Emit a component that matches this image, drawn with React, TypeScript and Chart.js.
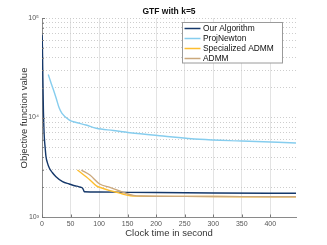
import React, { useEffect, useRef } from "react";
import { Chart, registerables } from "chart.js";

Chart.register(...registerables);

const FONT = '"Liberation Sans", Arial, Helvetica, sans-serif';

const chartTitle = "GTF with k=5";
const xAxisTitle = "Clock time in second";
const yAxisTitle = "Objective function value";

const seriesNames = ["Our Algorithm", "ProjNewton", "Specialized ADMM", "ADMM"];
const seriesColors = ["#15386a", "#86cdee", "#fdbd2e", "#cba87c"];

const ourX = [0, 0.5, 1, 1.5, 2, 2.5, 3, 4, 5.5, 7, 9.5, 12.8, 18, 24.5, 36, 47.7, 59, 63, 65, 68, 71, 72.5, 74, 100, 150, 200, 300, 445];
const ourY = [68000, 60000, 40000, 25000, 17000, 11500, 9000, 6400, 5000, 4040, 3500, 3110, 2800, 2540, 2265, 2147, 2050, 2035, 2010, 1990, 1950, 1880, 1795, 1785, 1770, 1760, 1745, 1730];

const projX = [11, 15, 20, 25, 30, 35, 48, 60, 77, 95, 125, 154, 212, 276, 350, 445];
const projY = [27000, 23000, 19000, 15500, 12500, 11000, 9400, 8900, 8400, 7800, 7400, 7030, 6520, 6040, 5800, 5550];

const specX = [62, 84, 96, 101, 119, 136, 145, 155, 165, 250, 350, 445];
const specY = [2965, 2355, 2040, 1990, 1840, 1740, 1680, 1635, 1620, 1610, 1600, 1595];

const admmX = [69, 84, 101, 119, 142, 160, 175, 250, 350, 445];
const admmY = [2965, 2640, 2145, 1987, 1770, 1650, 1625, 1612, 1602, 1597];

const xTicks = [0, 50, 100, 150, 200, 250, 300, 350, 400];
const yMajorTicks = [1000, 10000, 100000];
const yTickLabels = ["10\u00B3", "10\u2074", "10\u2075"];
const yMinorMultipliers = [2, 3, 4, 5, 6, 7, 8, 9];

const zip = (xs: number[], ys: number[]) => xs.map((x, i) => ({ x, y: ys[i] }));

function allYTicks(): number[] {
  const out: number[] = [];
  for (let i = 0; i < yMajorTicks.length; i++) {
    out.push(yMajorTicks[i]);
    if (i < yMajorTicks.length - 1) {
      for (const m of yMinorMultipliers) out.push(m * yMajorTicks[i]);
    }
  }
  return out;
}

const decorPlugin = {
  id: "decor",
  afterDraw(chart: any) {
    const ctx = chart.ctx as CanvasRenderingContext2D;
    const area = chart.chartArea;
    const xs = chart.scales.x;
    const ys = chart.scales.y;
    ctx.save();
    // inner tick marks
    ctx.strokeStyle = "#777";
    ctx.lineWidth = 1;
    ctx.beginPath();
    for (const t of xTicks) {
      const px = Math.round(xs.getPixelForValue(t)) + 0.5;
      ctx.moveTo(px, area.bottom);
      ctx.lineTo(px, area.bottom - 2.5);
    }
    for (const t of allYTicks()) {
      const py = Math.round(ys.getPixelForValue(t)) + 0.5;
      const major = yMajorTicks.includes(t);
      ctx.moveTo(area.left, py);
      ctx.lineTo(area.left + (major ? 3 : 1.8), py);
    }
    ctx.stroke();

    // title
    ctx.fillStyle = "#111";
    ctx.font = `bold 8.5px ${FONT}`;
    ctx.textAlign = "center";
    ctx.textBaseline = "middle";
    ctx.fillText(chartTitle, (area.left + area.right) / 2, 12);

    // axis titles
    ctx.fillStyle = "#333";
    ctx.font = `9.5px ${FONT}`;
    ctx.fillText(xAxisTitle, (area.left + area.right) / 2, 233);
    ctx.save();
    ctx.translate(24, 118);
    ctx.rotate(-Math.PI / 2);
    ctx.fillText(yAxisTitle, 0, 0);
    ctx.restore();

    // legend
    const bx = 182.5, by = 22.5, bw = 100, bh = 40.5;
    ctx.fillStyle = "#fff";
    ctx.fillRect(bx, by, bw, bh);
    ctx.strokeStyle = "#9a9a9a";
    ctx.lineWidth = 1;
    ctx.strokeRect(bx, by, bw, bh);
    ctx.font = `8.4px ${FONT}`;
    ctx.textAlign = "left";
    ctx.textBaseline = "middle";
    const rows = [28.5, 38.5, 48.5, 58.5];
    seriesNames.forEach((name, i) => {
      ctx.strokeStyle = seriesColors[i];
      ctx.lineWidth = 1.5;
      ctx.beginPath();
      ctx.moveTo(184.5, rows[i]);
      ctx.lineTo(200.5, rows[i]);
      ctx.stroke();
      ctx.fillStyle = "#111";
      ctx.fillText(name, 203, rows[i] + 0.5);
    });
    ctx.restore();
  },
};

export default function App() {
  const ref = useRef<HTMLCanvasElement | null>(null);
  useEffect(() => {
    document.body.style.margin = "0";
    const canvas = ref.current;
    if (!canvas) return;
    const seriesX = [ourX, projX, specX, admmX];
    const seriesY = [ourY, projY, specY, admmY];
    const chart = new Chart(canvas, {
      type: "line",
      data: {
        datasets: seriesNames.map((name, i) => ({
          label: name,
          data: zip(seriesX[i], seriesY[i]),
          borderColor: seriesColors[i],
          backgroundColor: seriesColors[i],
          borderWidth: 1.4,
          pointRadius: 0,
          fill: false,
          cubicInterpolationMode: "monotone" as const,
          order: 4 - i,
        })),
      },
      options: {
        responsive: false,
        animation: false,
        events: [],
        layout: { padding: { top: 18, right: 31, left: 0, bottom: 0 } },
        plugins: {
          legend: { display: false },
          title: { display: false },
          tooltip: { enabled: false },
        },
        scales: {
          x: {
            type: "linear",
            min: 0,
            max: 445,
            afterBuildTicks: (s: any) => {
              s.ticks = xTicks.map((v) => ({ value: v }));
            },
            afterFit: (s: any) => {
              s.height = 28;
            },
            ticks: {
              autoSkip: false,
              maxRotation: 0,
              padding: 3,
              color: "#555",
              font: { size: 7, family: FONT },
              callback: (v: any) => String(v),
            },
            grid: {
              drawTicks: false,
              color: (c: any) => (c.tick && c.tick.value === 0 ? "rgba(0,0,0,0)" : "#e3e3e3"),
              lineWidth: 1,
            },
            border: { color: "#8a8a8a", width: 1 },
          },
          y: {
            type: "logarithmic",
            min: 1000,
            max: 100000,
            afterBuildTicks: (s: any) => {
              s.ticks = allYTicks().map((v) => ({ value: v }));
            },
            afterFit: (s: any) => {
              s.width = 42;
            },
            ticks: {
              autoSkip: false,
              padding: 3,
              color: "#555",
              font: { size: 7, family: FONT },
              callback: (v: any) => {
                const idx = yMajorTicks.indexOf(Number(v));
                return idx >= 0 ? yTickLabels[idx] : "";
              },
            },
            grid: {
              drawTicks: false,
              color: (c: any) => (c.tick && c.tick.value === 1000 ? "rgba(0,0,0,0)" : "#cdcdcd"),
              lineWidth: 1,
            },
            border: { color: "#8a8a8a", width: 1, dash: [1, 2] },
          },
        },
      },
      plugins: [decorPlugin],
    } as any);
    return () => chart.destroy();
  }, []);
  return <canvas ref={ref} width={327} height={245} style={{ display: "block" }} />;
}
